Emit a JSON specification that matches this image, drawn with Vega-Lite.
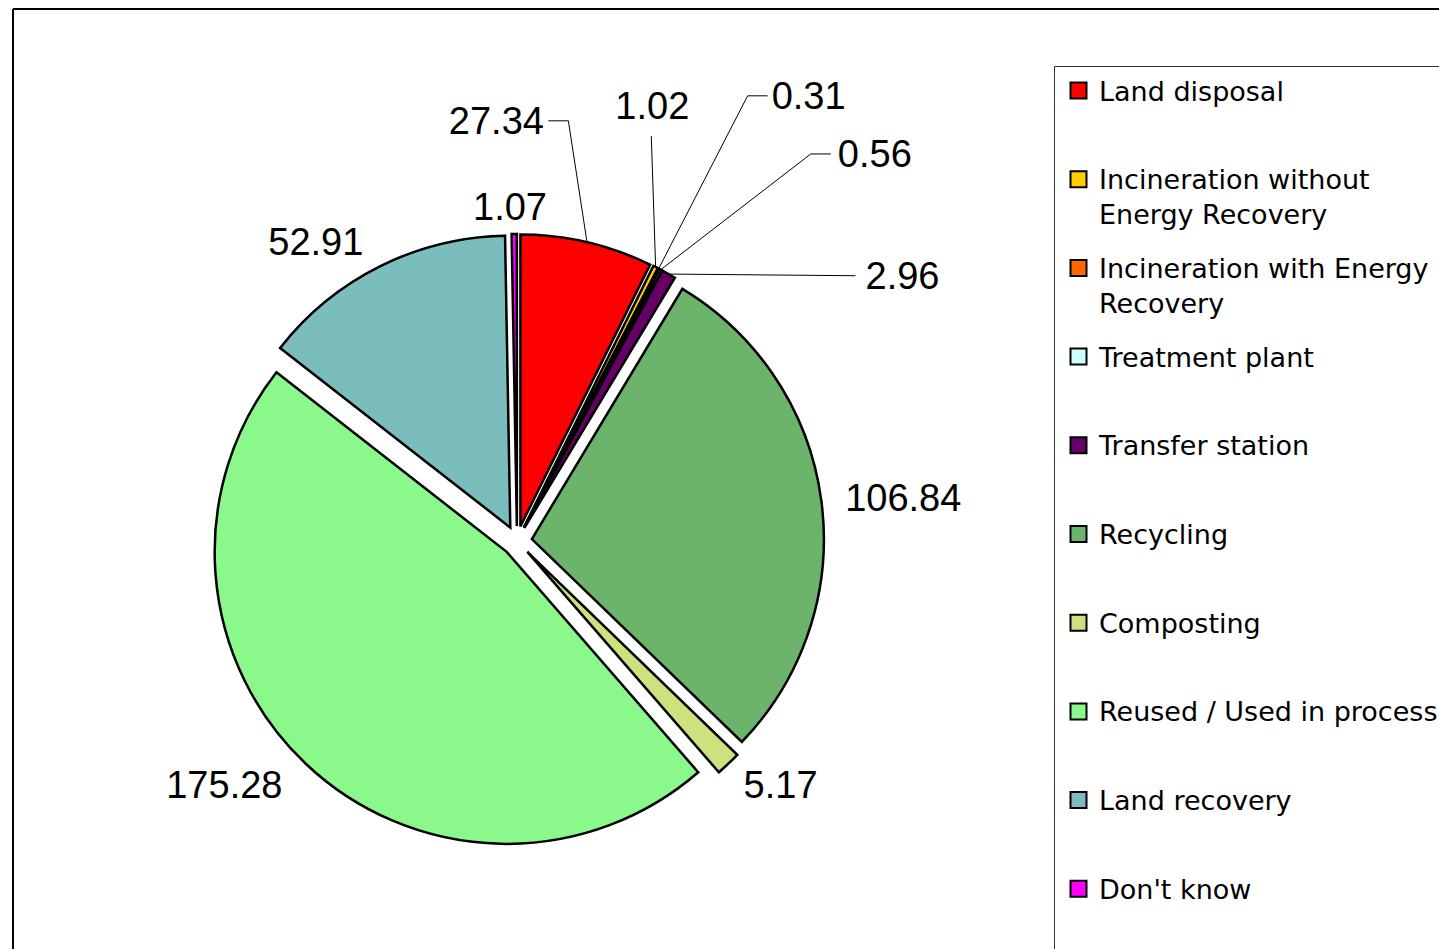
{
  "$schema": "https://vega.github.io/schema/vega-lite/v6.json",
  "width": 1008,
  "height": 1064,
  "padding": {"left": 12, "top": 8, "right": 0, "bottom": 0},
  "autosize": {"type": "pad"},
  "background": "white",
  "config": {"view": {"stroke": null}},
  "data": {"values": [
    {"category": "Land disposal", "value": 27.34},
    {"category": "Incineration without Energy Recovery", "value": 1.02},
    {"category": "Incineration with Energy Recovery", "value": 0.31},
    {"category": "Treatment plant", "value": 0.56},
    {"category": "Transfer station", "value": 2.96},
    {"category": "Recycling", "value": 106.84},
    {"category": "Composting", "value": 5.17},
    {"category": "Reused / Used in process", "value": 175.28},
    {"category": "Land recovery", "value": 52.91},
    {"category": "Don't know", "value": 1.07}
  ]},
  "transform": [
    {"window": [{"op": "row_number", "as": "idx"}]},
    {"stack": "value", "groupby": [], "sort": [{"field": "idx", "order": "ascending"}], "as": ["v0", "v1"]},
    {"joinaggregate": [{"op": "sum", "field": "value", "as": "total"}]},
    {"calculate": "2 * PI * datum.v0 / datum.total", "as": "a0"},
    {"calculate": "2 * PI * datum.v1 / datum.total", "as": "a1"},
    {"calculate": "(datum.a0 + datum.a1) / 2", "as": "am"}
  ],
  "layer": [
    {
      "mark": {"type": "arc", "radius": 292, "stroke": "black", "strokeWidth": 2.5, "strokeJoin": "miter",
        "xOffset": {"expr": "15 * sin(datum.am)"}, "yOffset": {"expr": "-15 * cos(datum.am)"}},
      "encoding": {
        "theta": {"field": "a0", "type": "quantitative", "scale": null},
        "theta2": {"field": "a1"},
        "color": {
          "field": "category", "type": "nominal",
          "scale": {
            "domain": ["Land disposal", "Incineration without Energy Recovery", "Incineration with Energy Recovery", "Treatment plant", "Transfer station", "Recycling", "Composting", "Reused / Used in process", "Land recovery", "Don't know"],
            "range": ["#ff0000", "#ffcc00", "#ff6600", "#ccffff", "#660066", "#6cb36c", "#cce27e", "#8af88a", "#7bbcbc", "#ff00ff"]
          },
          "legend": {
            "orient": "none", "legendX": 1041, "legendY": 57, "title": null,
            "symbolType": "square", "symbolSize": 256, "symbolStrokeColor": "black", "symbolStrokeWidth": 2, "symbolOpacity": 1,
            "labelFont": "DejaVu Sans", "labelFontSize": 27, "labelColor": "black", "labelLimit": 1000,
            "labelBaseline": "top", "labelOffset": 7,
            "rowPadding": 24.7, "gridAlign": "each", "padding": 11, "strokeColor": "#333333",
            "labelExpr": "datum.label == 'Incineration without Energy Recovery' ? ['Incineration without', 'Energy Recovery'] : datum.label == 'Incineration with Energy Recovery' ? ['Incineration with Energy', 'Recovery'] : datum.label == \"Don't know\" ? [datum.label, ' ', ' ', ' '] : [datum.label, ' ']",
            "encode": {"labels": {"update": {"lineHeight": {"value": 35}, "dy": {"value": -11}}}}
          }
        }
      }
    },
    {
      "transform": [{"filter": {"field": "category", "oneOf": ["Recycling", "Composting", "Reused / Used in process", "Land recovery", "Don't know"]}}],
      "mark": {"type": "text", "radius": 335, "font": "Liberation Sans", "fontSize": 38, "fill": "black", "baseline": "middle", "dx": -4, "dy": 3,
        "align": {"expr": "sin(datum.am) > 0.3 ? 'left' : (sin(datum.am) < -0.3 ? 'right' : 'center')"}},
      "encoding": {
        "theta": {"field": "am", "type": "quantitative", "scale": null},
        "text": {"field": "value", "type": "quantitative", "format": ".2f"}
      }
    },
    {
      "transform": [
        {"filter": {"field": "category", "oneOf": ["Land disposal", "Incineration without Energy Recovery", "Incineration with Energy Recovery", "Treatment plant", "Transfer station"]}},
        {"calculate": "datum.category == 'Land disposal' ? -97 : datum.category == 'Incineration without Energy Recovery' ? -16 : datum.category == 'Incineration with Energy Recovery' ? 137 : datum.category == 'Treatment plant' ? 201 : 220", "as": "ldx"},
        {"calculate": "datum.category == 'Land disposal' ? -92 : datum.category == 'Incineration without Energy Recovery' ? -134 : datum.category == 'Incineration with Energy Recovery' ? -146 : datum.category == 'Treatment plant' ? -89 : 28", "as": "ldy"}
      ],
      "mark": {"type": "text", "radius": 335, "font": "Liberation Sans", "fontSize": 38, "fill": "black", "baseline": "middle", "align": "center",
        "dx": {"expr": "datum.ldx"}, "dy": {"expr": "datum.ldy"}},
      "encoding": {
        "theta": {"field": "am", "type": "quantitative", "scale": null},
        "text": {"field": "value", "type": "quantitative", "format": ".2f"}
      }
    },
    {
      "transform": [
        {"filter": {"field": "category", "oneOf": ["Land disposal", "Incineration without Energy Recovery", "Incineration with Energy Recovery", "Treatment plant", "Transfer station"]}},
        {"calculate": "datum.category == 'Land disposal' ? -25 : datum.category == 'Incineration without Energy Recovery' ? -17 : datum.category == 'Incineration with Energy Recovery' ? 76 : datum.category == 'Treatment plant' ? 137 : 173", "as": "ex"},
        {"calculate": "datum.category == 'Land disposal' ? -94 : datum.category == 'Incineration without Energy Recovery' ? -106 : datum.category == 'Incineration with Energy Recovery' ? -148 : datum.category == 'Treatment plant' ? -91 : 26", "as": "ey"}
      ],
      "mark": {"type": "rule", "stroke": "black", "strokeWidth": 1},
      "encoding": {
        "x": {"value": {"expr": "width / 2 + 307 * sin(datum.am)"}},
        "y": {"value": {"expr": "height / 2 - 307 * cos(datum.am)"}},
        "x2": {"value": {"expr": "width / 2 + 335 * sin(datum.am) + datum.ex"}},
        "y2": {"value": {"expr": "height / 2 - 335 * cos(datum.am) + datum.ey"}}
      }
    },
    {
      "transform": [
        {"filter": {"field": "category", "oneOf": ["Land disposal", "Incineration with Energy Recovery", "Treatment plant"]}},
        {"calculate": "datum.category == 'Land disposal' ? -25 : datum.category == 'Incineration with Energy Recovery' ? 76 : 137", "as": "ex"},
        {"calculate": "datum.category == 'Land disposal' ? -45 : datum.category == 'Incineration with Energy Recovery' ? 96 : 157", "as": "bx"},
        {"calculate": "datum.category == 'Land disposal' ? -94 : datum.category == 'Incineration with Energy Recovery' ? -148 : -91", "as": "ey"}
      ],
      "mark": {"type": "rule", "stroke": "black", "strokeWidth": 1},
      "encoding": {
        "x": {"value": {"expr": "width / 2 + 335 * sin(datum.am) + datum.ex"}},
        "y": {"value": {"expr": "height / 2 - 335 * cos(datum.am) + datum.ey"}},
        "x2": {"value": {"expr": "width / 2 + 335 * sin(datum.am) + datum.bx"}},
        "y2": {"value": {"expr": "height / 2 - 335 * cos(datum.am) + datum.ey"}}
      }
    },
    {
      "mark": {"type": "rule", "stroke": "black", "strokeWidth": 1.5},
      "encoding": {"x": {"value": 0}}
    },
    {
      "mark": {"type": "rule", "stroke": "black", "strokeWidth": 1.5},
      "encoding": {"y": {"value": 0}, "x": {"value": 0}, "x2": {"value": 1430}}
    }
  ]
}
